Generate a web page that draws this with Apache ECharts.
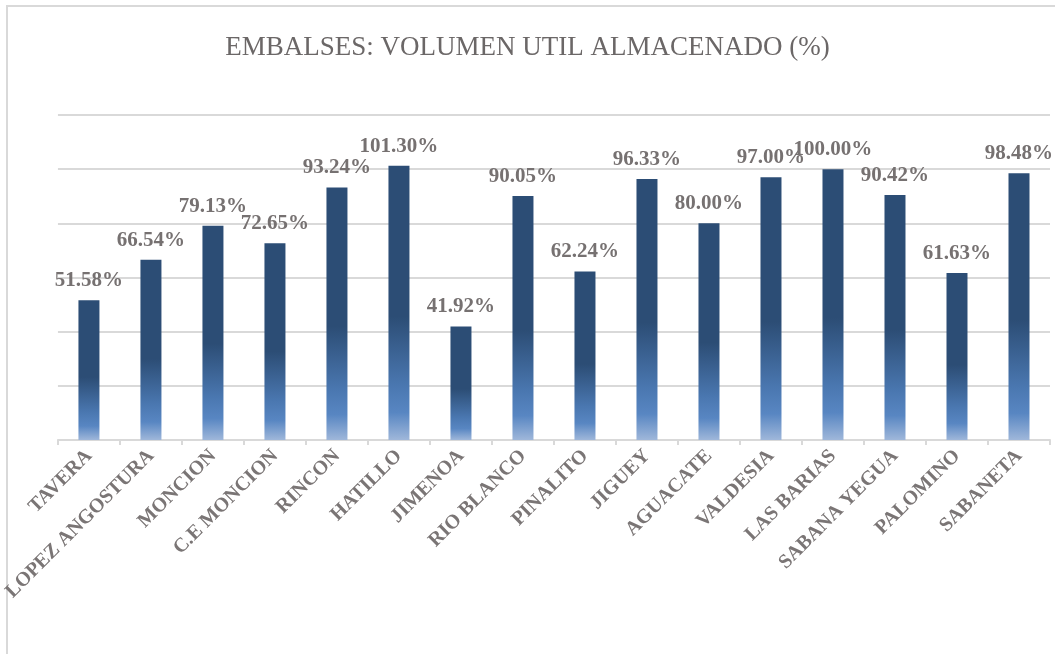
<!DOCTYPE html>
<html>
<head>
<meta charset="utf-8">
<script src="https://cdn.jsdelivr.net/npm/echarts@6/dist/echarts.min.js"></script>
<style>
  html, body { margin: 0; padding: 0; background: #fff; }
  #chart { width: 1055px; height: 654px; }
</style>
</head>
<body>
<div id="chart"></div>
<script>
const embalses = [
  "TAVERA", "LOPEZ ANGOSTURA", "MONCION", "C.E MONCION", "RINCON", "HATILLO",
  "JIMENOA", "RIO BLANCO", "PINALITO", "JIGUEY", "AGUACATE", "VALDESIA",
  "LAS BARIAS", "SABANA YEGUA", "PALOMINO", "SABANETA"
];
const volumenUtil = [
  51.58, 66.54, 79.13, 72.65, 93.24, 101.30,
  41.92, 90.05, 62.24, 96.33, 80.00, 97.00,
  100.00, 90.42, 61.63, 98.48
];

const serif = "'Liberation Serif', 'Times New Roman', serif";
const chart = echarts.init(document.getElementById("chart"));

// bar fill: dark navy on top fading to light blue at the base
const barFill = new echarts.graphic.LinearGradient(0, 0, 0, 1, [
  { offset: 0, color: "#2C4D75" },
  { offset: 0.55, color: "#2C4D75" },
  { offset: 0.8, color: "#4A77B0" },
  { offset: 0.9, color: "#5886C2" },
  { offset: 1, color: "#9FB7DA" }
]);

const option = {
  animation: false,
  backgroundColor: "#fff",
  graphic: [
    {
      type: "rect",
      shape: { x: 7, y: 6, width: 1100, height: 700 },
      style: { fill: "none", stroke: "#D9D9D9", lineWidth: 2 },
      silent: true
    }
  ],
  title: {
    text: "EMBALSES: VOLUMEN UTIL ALMACENADO (%)",
    left: "center",
    top: 29,
    textStyle: {
      fontFamily: serif,
      fontWeight: "normal",
      fontSize: 27,
      color: "#6B6767"
    }
  },
  grid: {
    left: 55,
    right: 5,
    top: 115,
    bottom: 214,
    containLabel: false
  },
  xAxis: {
    type: "category",
    data: embalses,
    axisLine: { lineStyle: { color: "#D9D9D9", width: 2 } },
    axisTick: { show: true, length: 5, lineStyle: { color: "#D9D9D9", width: 2 } },
    axisLabel: {
      interval: 0,
      rotate: 45,
      margin: 13,
      fontFamily: serif,
      fontWeight: "bold",
      fontSize: 20,
      color: "#7A7575"
    }
  },
  yAxis: {
    type: "value",
    min: 0,
    max: 120,
    interval: 20,
    axisLabel: { show: false },
    axisLine: { show: false },
    axisTick: { show: false },
    splitLine: { lineStyle: { color: "#D9D9D9", width: 2 } }
  },
  series: [
    {
      name: "Volumen util",
      type: "bar",
      data: volumenUtil,
      barWidth: 21,
      itemStyle: { color: barFill },
      label: {
        show: true,
        position: "top",
        distance: 9,
        formatter: (p) => p.value.toFixed(2) + "%",
        fontFamily: serif,
        fontWeight: "bold",
        fontSize: 21,
        color: "#767171"
      }
    }
  ]
};

chart.setOption(option);
</script>
</body>
</html>
